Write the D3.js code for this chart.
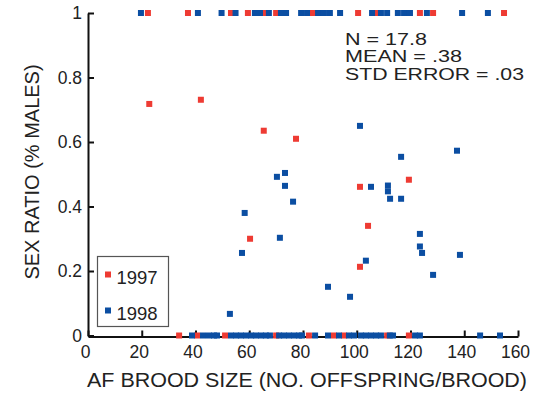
<!DOCTYPE html>
<html>
<head>
<meta charset="utf-8">
<script src="https://cdn.jsdelivr.net/npm/d3@7"></script>
<style>
  body { margin: 0; background: #fff; }
  svg { display: block; font-family: "Liberation Sans", Arial, sans-serif; }
</style>
</head>
<body>
<script>
// 1997 brood sizes / sex ratios (red)
const x1997 = [22.3, 37.2, 53.2, 59.5, 65.9, 70, 83.7, 100.5, 107.9, 123.5, 128.4, 154.8,
  33.9, 40.6, 51, 70, 82.2, 91.5, 95.3, 111.3, 119.4,
  22.8, 42.0, 65.4, 77.4, 60.3, 119.4, 101.2, 104.2, 101.2];
const y1997 = [1, 1, 1, 1, 1, 1, 1, 1, 1, 1, 1, 1,
  0, 0, 0, 0, 0, 0, 0, 0, 0,
  0.718, 0.731, 0.635, 0.61, 0.3, 0.483, 0.461, 0.34, 0.213];

// 1998 (blue)
const x1998 = [19.7, 40.9, 49.7, 54.9, 62.1, 64, 67.3, 71.8, 73.7, 79.3, 81.5, 85.6, 87.8, 90, 93.8,
  105.7, 109, 111.3, 115.3, 117.6, 119.8, 126.1, 139.2, 148.8,
  38.7, 42.8, 45, 46.9, 48, 53.2, 55.1, 56.9, 58.8, 60.7, 62.5, 64.4, 66.2, 67.7,
  71.1, 72.9, 74.8, 76.7, 78.5, 79.6, 84.5, 89.3, 93.4, 97.1, 99, 101.6, 103.4, 105.3,
  107.2, 109, 112.3, 113.5, 121.7, 123.5, 145.9, 153.3,
  70.3, 73.3, 73.3, 76.3, 58.3, 71.4, 57.3, 52.8, 101.2, 137.3, 116.5, 105.3, 111.6,
  111.6, 112.4, 116.5, 123.5, 123.5, 124.3, 138.4, 103.4, 128.4, 89.3, 97.5];
const y1998 = [1, 1, 1, 1, 1, 1, 1, 1, 1, 1, 1, 1, 1, 1, 1,
  1, 1, 1, 1, 1, 1, 1, 1, 1,
  0, 0, 0, 0, 0, 0, 0, 0, 0, 0, 0, 0, 0, 0,
  0, 0, 0, 0, 0, 0, 0, 0, 0, 0, 0, 0, 0, 0,
  0, 0, 0, 0, 0, 0, 0, 0,
  0.492, 0.504, 0.464, 0.415, 0.38, 0.303, 0.256, 0.067, 0.65, 0.573, 0.554, 0.461, 0.465,
  0.447, 0.424, 0.424, 0.315, 0.276, 0.256, 0.25, 0.232, 0.188, 0.151, 0.12];

const xTicks = [0, 20, 40, 60, 80, 100, 120, 140, 160];
const yTicks = [0, 0.2, 0.4, 0.6, 0.8, 1];
const yTickLabels = ["0", "0.2", "0.4", "0.6", "0.8", "1"];
const statLines = ["N = 17.8", "MEAN = .38", "STD ERROR = .03"];
const legendLabels = ["1997", "1998"];

const red = "#ee3b33";
const blue = "#0b4ea2";

const width = 534;
const height = 400;
const markSize = 6;
// the source figure's lettering is a little wider than Arial, so stretch to fit
const statWidths = [82, 117, 179];

const svg = d3.select("body")
  .append("svg")
  .attr("width", width)
  .attr("height", height);

const x = d3.scaleLinear().domain([0, 160]).range([88, 518]);
const y = d3.scaleLinear().domain([0, 1]).range([335.5, 13]);

// axes with inward ticks
const xAxis = svg.append("g")
  .attr("transform", `translate(0,${y(0) + 1})`)
  .call(d3.axisBottom(x).tickValues(xTicks).tickSize(-6).tickSizeOuter(0).tickPadding(9));

const yAxis = svg.append("g")
  .attr("transform", `translate(${x(0)},0)`)
  .call(d3.axisLeft(y).tickValues(yTicks).tickSize(-6).tickSizeOuter(0).tickPadding(6)
    .tickFormat((d, i) => yTickLabels[i]));

[xAxis, yAxis].forEach(g => {
  g.select(".domain").attr("stroke", "#111").attr("stroke-width", 2);
  g.selectAll(".tick line").attr("stroke", "#111").attr("stroke-width", 2);
  g.selectAll(".tick text")
    .attr("fill", "#222")
    .attr("font-size", 17.5)
    .attr("font-family", "\"Liberation Sans\", Arial, sans-serif");
});
xAxis.selectAll(".tick text").attr("dx", -3);

// points
const pts = [
  { xs: x1997, ys: y1997, color: red },
  { xs: x1998, ys: y1998, color: blue }
];

pts.forEach(s => {
  svg.append("g")
    .selectAll("rect")
    .data(s.xs.map((v, i) => [v, s.ys[i]]))
    .join("rect")
    .attr("x", d => x(d[0]) - markSize / 2)
    .attr("y", d => y(d[1]) - markSize / 2)
    .attr("width", markSize)
    .attr("height", markSize)
    .attr("fill", s.color);
});

// axis titles
svg.append("text")
  .attr("x", 87)
  .attr("y", 387)
  .attr("font-size", 20.5)
  .attr("fill", "#222")
  .attr("textLength", 440)
  .attr("lengthAdjust", "spacingAndGlyphs")
  .text("AF BROOD SIZE (NO. OFFSPRING/BROOD)");

svg.append("text")
  .attr("transform", "translate(39,172) rotate(-90)")
  .attr("text-anchor", "middle")
  .attr("font-size", 20)
  .attr("fill", "#222")
  .text("SEX RATIO (% MALES)");

// stats annotation
svg.append("g")
  .selectAll("text")
  .data(statLines)
  .join("text")
  .attr("x", 345)
  .attr("y", (d, i) => 44.5 + i * 17.8)
  .attr("font-size", 15.8)
  .attr("fill", "#222")
  .attr("textLength", (d, i) => statWidths[i])
  .attr("lengthAdjust", "spacingAndGlyphs")
  .text(d => d);

// legend
const legend = svg.append("g");
legend.append("rect")
  .attr("x", 97.5)
  .attr("y", 256.5)
  .attr("width", 71)
  .attr("height", 70)
  .attr("fill", "#fff")
  .attr("stroke", "#555")
  .attr("stroke-width", 1.2);

[red, blue].forEach((c, i) => {
  const cy = 274.5 + i * 36;
  legend.append("rect")
    .attr("x", 108 - 3)
    .attr("y", cy - 3)
    .attr("width", 6)
    .attr("height", 6)
    .attr("fill", c);
  legend.append("text")
    .attr("x", 116.5)
    .attr("y", cy + 9.5)
    .attr("font-size", 18.5)
    .attr("fill", "#222")
    .text(legendLabels[i]);
});
</script>
</body>
</html>
